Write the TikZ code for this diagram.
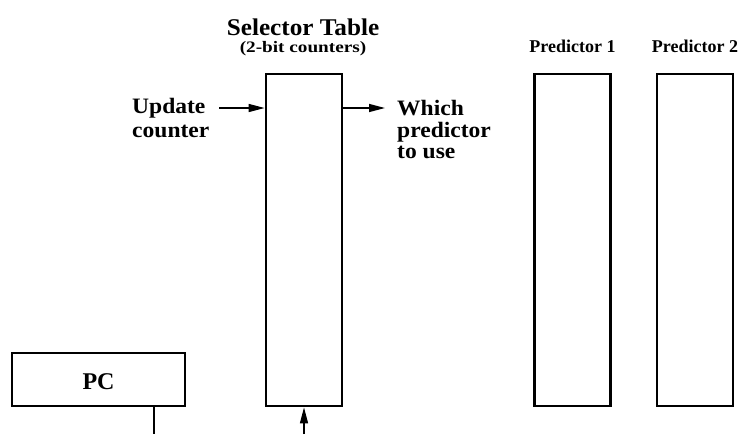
\documentclass[tikz,border=0pt]{standalone}
\usepackage{fontspec}
\setmainfont{Liberation Serif}
\usetikzlibrary{arrows.meta}

\begin{document}
\begin{tikzpicture}[x=1pt,y=-1pt,
  table/.style={draw, line width=2.8pt, inner sep=0pt, minimum width=76pt, minimum height=332pt},
  reg/.style={draw, line width=2.8pt, inner sep=0pt, minimum width=173pt, minimum height=53pt},
  lbl/.style={inner sep=0pt, font=\fontsize{22}{22}\selectfont\bfseries\addfontfeature{FakeStretch=1.07}, align=left},
  head/.style={inner sep=0pt, font=\fontsize{18}{18}\selectfont\bfseries},
  arr/.style={line width=1.4pt, -{Triangle[length=16pt,width=8pt]}},
  wire/.style={line width=1.4pt}]
\useasboundingbox (0,0) rectangle (739,434);

% tables
\node[table] (sel)  at (304,240) {};
\node[table] (pred1) at (572.5,240) {};
\node[table] (pred2) at (695,240) {};

% program counter
\node[reg] (pc) at (98.5,379.5) {};
\node[inner sep=0pt, font=\fontsize{24}{24}\selectfont\bfseries, anchor=base] (pctext) at (98.5,389) {PC};

% headings
\node[inner sep=0pt, font=\fontsize{24}{24}\selectfont\bfseries\addfontfeature{FakeStretch=1.05}, anchor=base] (selhead) at (303,35) {Selector Table};
\node[inner sep=0pt, font=\fontsize{16}{16}\selectfont\bfseries\addfontfeature{FakeStretch=1.2}, anchor=base] (selsub) at (303,52) {(2-bit counters)};
\node[head, anchor=base] (p1head) at (572.5,52) {Predictor 1};
\node[head, anchor=base] (p2head) at (695,52) {Predictor 2};

% side labels
\node[lbl, anchor=base west] (upd) at (132,113) {Update};
\node[lbl, anchor=base west] (updb) at (132,137) {counter};
\node[lbl, anchor=base west] (which) at (397,115) {Which};
\node[lbl, anchor=base west] (whichb) at (397,137) {predictor};
\node[lbl, anchor=base west] (whichc) at (397,158) {to use};

% connectors
\coordinate (updin) at (219,108);
\coordinate (selout) at (385,108);
\coordinate (selin) at (304,434);
\coordinate (pcend) at (154,434);
\draw[arr] (updin) -- (updin -| sel.west);
\draw[arr] (selout -| sel.east) -- (selout);
\draw[arr] (selin) -- (sel.south);
\draw[wire] (pcend |- pc.south) -- (pcend);
\end{tikzpicture}
\end{document}
